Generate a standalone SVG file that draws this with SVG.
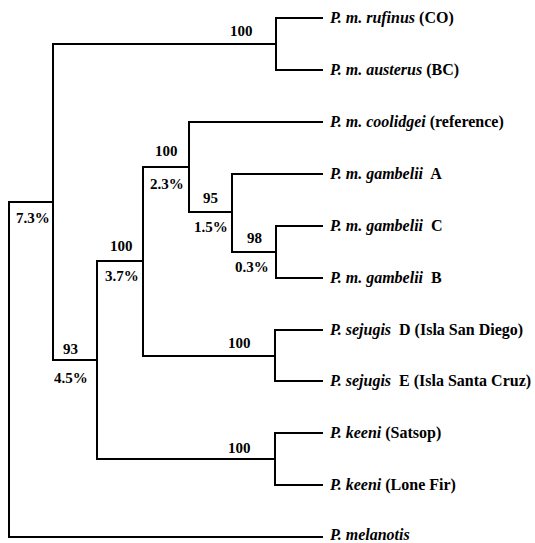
<svg xmlns="http://www.w3.org/2000/svg" width="535" height="543" viewBox="0 0 535 543">
<style>
.br{fill:none;stroke:#000;stroke-width:2;stroke-linecap:square}
.lf{font-family:"Liberation Serif","Times New Roman",serif;font-size:16px;font-weight:bold;fill:#000}
.sp{font-style:italic}
.bs{font-family:"Liberation Serif","Times New Roman",serif;font-size:15px;font-weight:bold;fill:#000}
</style>
<rect width="535" height="543" fill="#fff"/>
<g id="connectors">
<path class="br" d="M9 202V537H322"/>
<path class="br" d="M9 202H53V44H276V18H322M276 44V70H322"/>
<path class="br" d="M53 202V360H97V261H143V167H189V122H322"/>
<path class="br" d="M189 167V212H232V174H322M232 212V252H276V226H322M276 252V278H322"/>
<path class="br" d="M143 261V356H275V330H322M275 356V381H322"/>
<path class="br" d="M97 360V459H275V433H322M275 459V485H322"/>
</g>
<g id="leaf-rufinus"><text class="lf" x="330" y="23"><tspan class="sp">P. m. rufinus</tspan> (CO)</text></g>
<g id="leaf-austerus"><text class="lf" x="330" y="75"><tspan class="sp">P. m. austerus</tspan> (BC)</text></g>
<g id="leaf-coolidgei"><text class="lf" x="330" y="127"><tspan class="sp">P. m. coolidgei</tspan> (reference)</text></g>
<g id="leaf-gambeliiA"><text class="lf" x="330" y="179" xml:space="preserve"><tspan class="sp">P. m. gambelii</tspan>  A</text></g>
<g id="leaf-gambeliiC"><text class="lf" x="330" y="231" xml:space="preserve"><tspan class="sp">P. m. gambelii</tspan>  C</text></g>
<g id="leaf-gambeliiB"><text class="lf" x="330" y="283" xml:space="preserve"><tspan class="sp">P. m. gambelii</tspan>  B</text></g>
<g id="leaf-sejugisD"><text class="lf" x="330" y="335" xml:space="preserve"><tspan class="sp">P. sejugis</tspan>  D (Isla San Diego)</text></g>
<g id="leaf-sejugisE"><text class="lf" x="330" y="386" xml:space="preserve"><tspan class="sp">P. sejugis</tspan>  E (Isla Santa Cruz)</text></g>
<g id="leaf-keeniS"><text class="lf" x="330" y="438"><tspan class="sp">P. keeni</tspan> (Satsop)</text></g>
<g id="leaf-keeniL"><text class="lf" x="330" y="490"><tspan class="sp">P. keeni</tspan> (Lone Fir)</text></g>
<g id="leaf-melanotis"><text class="lf sp" x="330" y="540">P. melanotis</text></g>
<g id="node-root"><text class="bs" x="16" y="223">7.3%</text></g>
<g id="node-top"><text class="bs" x="230" y="36">100</text></g>
<g id="node-93"><text class="bs" x="63" y="354">93</text><text class="bs" x="54" y="383">4.5%</text></g>
<g id="node-100a"><text class="bs" x="110" y="251">100</text><text class="bs" x="105" y="281">3.7%</text></g>
<g id="node-100b"><text class="bs" x="155" y="156">100</text><text class="bs" x="150" y="189">2.3%</text></g>
<g id="node-95"><text class="bs" x="203" y="203">95</text><text class="bs" x="194" y="232">1.5%</text></g>
<g id="node-98"><text class="bs" x="247" y="243">98</text><text class="bs" x="235" y="272">0.3%</text></g>
<g id="node-sejugis"><text class="bs" x="228" y="348">100</text></g>
<g id="node-keeni"><text class="bs" x="228" y="453">100</text></g>
</svg>
